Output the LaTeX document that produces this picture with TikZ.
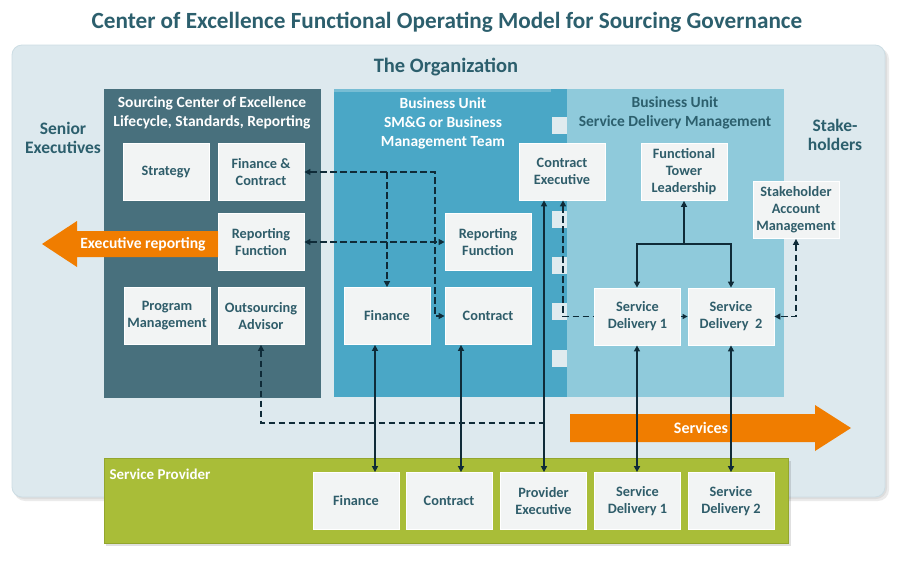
\documentclass[tikz,border=0pt]{standalone}
\usepackage{fontspec}
\setmainfont{Carlito}
\usetikzlibrary{arrows.meta,shadows}
\definecolor{ttl}{HTML}{2C5F6D}
\definecolor{orgfill}{HTML}{DDE9EE}
\definecolor{orgline}{HTML}{CCDDE4}
\definecolor{coe}{HTML}{48707D}
\definecolor{bu}{HTML}{4AA7C6}
\definecolor{sdm}{HTML}{8FCADB}
\definecolor{boxfill}{HTML}{F2F4F4}
\definecolor{boxtxt}{HTML}{2F5D6A}
\definecolor{conn}{HTML}{0F2B38}
\definecolor{orng}{HTML}{F07D00}
\definecolor{grn}{HTML}{A9BD38}
\definecolor{grnline}{HTML}{93A62E}
\definecolor{sq}{HTML}{DFEBEF}
\tikzset{
  fbox/.style={draw=white, line width=0.8pt, fill=boxfill, text=boxtxt,
    font=\bfseries\fontsize{14.3}{17}\selectfont, align=center,
    minimum width=86pt, minimum height=57pt, inner sep=0pt},
  sol/.style={draw=conn, line width=1.9pt, {Triangle[length=6pt,width=6pt]}-{Triangle[length=6pt,width=6pt]}},
  sol1/.style={draw=conn, line width=1.9pt, -{Triangle[length=6pt,width=6pt]}},
  dsh/.style={draw=conn, line width=1.9pt, dash pattern=on 6.5pt off 3.5pt},
  sectitle/.style={font=\bfseries\fontsize{15.5}{19}\selectfont, align=center},
  sidetitle/.style={text=ttl, font=\bfseries\fontsize{17.5}{19}\selectfont, align=center}
}
\begin{document}
\begin{tikzpicture}[x=1pt,y=-1pt]
\useasboundingbox (0,0) rectangle (900,560);
\fill[white] (0,0) rectangle (900,560);
% title
\node[text=ttl, font=\bfseries\fontsize{23.2}{27}\selectfont] (title) at (447,22) {Center of Excellence Functional Operating Model for Sourcing Governance};
% organization
\fill[black, opacity=0.08, rounded corners=11pt] (14,48) rectangle (889,501);
\fill[black, opacity=0.06, rounded corners=11pt] (13,47) rectangle (887,499);
\draw[orgline, fill=orgfill, line width=0.8pt, rounded corners=10pt] (12,45) rectangle (885,497);
\node[text=ttl, font=\bfseries\fontsize{20.5}{24}\selectfont] (org) at (446,67) {The Organization};
% panels
\fill[coe] (104,89) rectangle (321,398);
\fill[bu] (334,89) rectangle (567,397);
\fill[white, opacity=0.25] (334,89) rectangle (551,92);
\fill[sdm] (567,89) rectangle (784,397);
\foreach \ya/\yb in {117/134,164/181,211/228,257/274,303/320,350/367}
  \fill[sq] (552,\ya) rectangle (567,\yb);
\node[sectitle, text=white] (coet) at (212,113) {Sourcing Center of Excellence\\Lifecycle, Standards, Reporting};
\node[sectitle, text=white] (but) at (443,123.5) {Business Unit\\SM\&G or Business\\Management Team};
\node[sectitle, text=ttl] (sdmt) at (675,113) {Business Unit\\Service Delivery Management};
\node[sidetitle] (senior) at (63,138) {Senior\\Executives};
\node[sidetitle] (stake) at (835,135) {Stake-\\holders};
% service provider
\fill[black, opacity=0.12] (106,461) rectangle (791,546);
\draw[grnline, fill=grn, line width=0.8pt] (104,458) rectangle (788,543);
\node[anchor=west, text=white, font=\bfseries\fontsize{15}{17}\selectfont] (sp) at (106,474) {Service Provider};
% services arrow
\fill[orng] (570,414) -- (815,414) -- (815,405) -- (851,428) -- (815,451) -- (815,442) -- (570,442) -- cycle;
\node[text=white, font=\bfseries\fontsize{16}{18}\selectfont] (serv) at (701,428) {Services};
% boxes
\node[fbox] (strat) at (166,172) {Strategy};
\node[fbox] (fc) at (261,172) {Finance \&\\Contract};
\node[fbox] (rfl) at (261,242) {Reporting\\Function};
\node[fbox] (pm) at (167,316) {Program\\Management};
\node[fbox] (oa) at (261,316) {Outsourcing\\Advisor};
\node[fbox] (rfm) at (488,242) {Reporting\\Function};
\node[fbox] (fin) at (387,316) {Finance};
\node[fbox] (con) at (488,316) {Contract};
\node[fbox] (ce) at (562,171.5) {Contract\\Executive};
\node[fbox] (ftl) at (684,172) {Functional\\Tower\\Leadership};
\node[fbox] (sam) at (796,210) {Stakeholder\\Account\\Management};
\node[fbox] (sd1) at (637.5,316.5) {Service\\Delivery 1};
\node[fbox] (sd2) at (731,316.5) {Service\\Delivery~ 2};
\node[fbox] (bfin) at (356,501) {Finance};
\node[fbox] (bcon) at (449,501) {Contract};
\node[fbox] (bpe) at (543.5,501) {Provider\\Executive};
\node[fbox] (bsd1) at (637.5,501) {Service\\Delivery 1};
\node[fbox] (bsd2) at (731,501) {Service\\Delivery 2};
% executive reporting arrow
\fill[orng] (218,231) -- (77,231) -- (77,221) -- (42,244) -- (77,267) -- (77,257) -- (218,257) -- cycle;
\node[text=white, font=\bfseries\fontsize{15.6}{18}\selectfont] (exrep) at (143,244) {Executive reporting};
% coordinates
\coordinate (xfin) at (375,0);
\coordinate (xcon) at (461,0);
\coordinate (xpe) at (544,0);
\coordinate (xsd1) at (637,0);
\coordinate (xsd2) at (731,0);
\coordinate (xce) at (563,0);
\coordinate (jn) at (684,244);
\coordinate (d1) at (387,172);
\coordinate (d2) at (435,172);
\coordinate (ojn) at (544,423);
% solid connectors
\draw[sol] (xfin |- fin.south) -- (xfin |- bfin.north);
\draw[sol] (xcon |- con.south) -- (xcon |- bcon.north);
\draw[sol] (xpe |- ce.south) -- (xpe |- bpe.north);
\draw[sol] (xsd1 |- sd1.south) -- (xsd1 |- bsd1.north);
\draw[sol] (xsd2 |- sd2.south) -- (xsd2 |- bsd2.north);
\draw[sol1] (jn) -- (ftl.south);
\draw[sol1] (jn) -| (xsd1 |- sd1.north);
\draw[sol1] (jn) -| (xsd2 |- sd2.north);
\draw[draw=conn, line width=1.5pt, -{Triangle[length=5pt,width=5pt]}] (sd1.east) -- (sd2.west);
% dashed connectors
\draw[dsh, {Triangle[length=6pt,width=6pt]}-{Triangle[length=6pt,width=6pt]}] (fc.east) -- (d2) |- (con.west);
\draw[dsh, -{Triangle[length=6pt,width=6pt]}] (d1) -- (d1 |- fin.north);
\draw[dsh, {Triangle[length=6pt,width=6pt]}-{Triangle[length=6pt,width=6pt]}] (rfl.east) -- (rfm.west);
\draw[dsh, {Triangle[length=6pt,width=6pt]}-] (xce |- ce.south) |- (sd1.west);
\draw[dsh, {Triangle[length=6pt,width=6pt]}-{Triangle[length=6pt,width=6pt]}] (sam.south) |- (sd2.east);
\draw[dsh, {Triangle[length=6pt,width=6pt]}-] (oa.south) |- (ojn);
\end{tikzpicture}
\end{document}
